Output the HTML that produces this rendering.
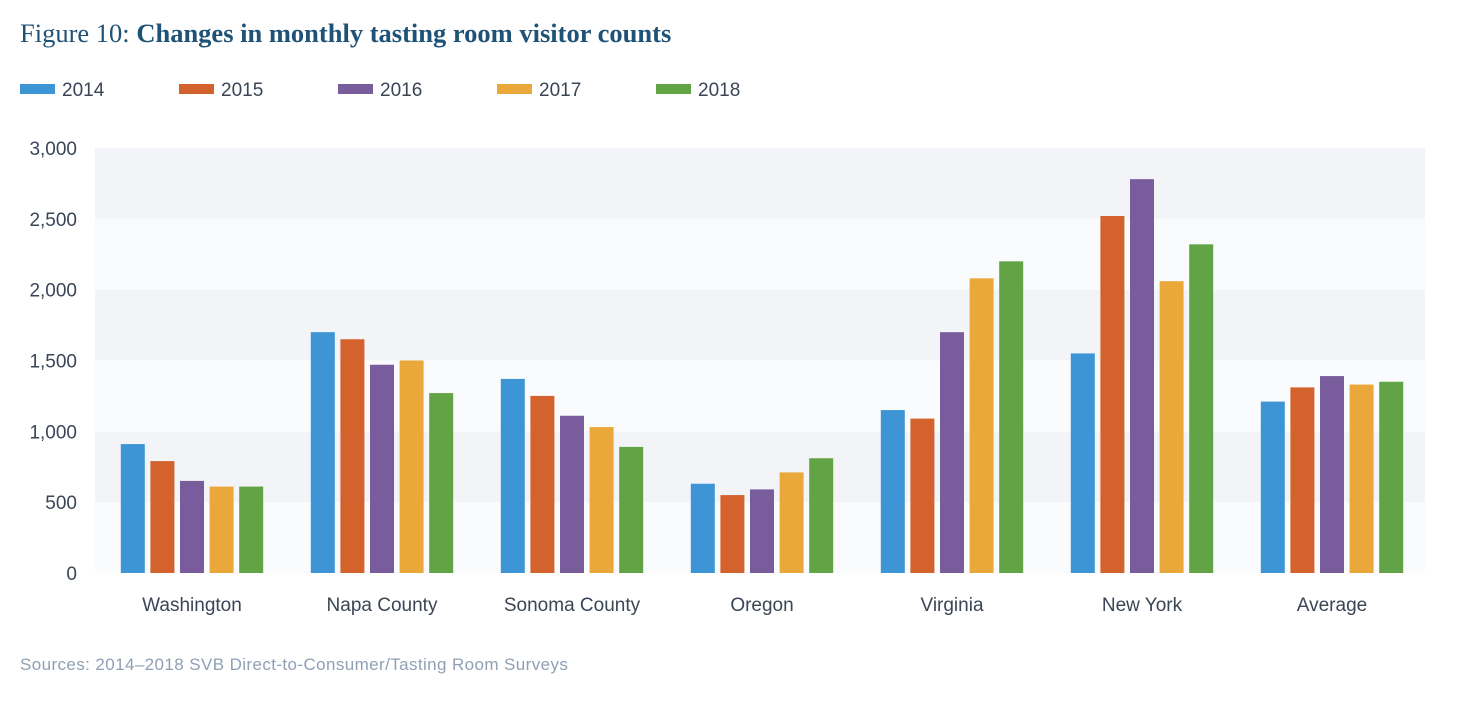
<!DOCTYPE html>
<html><head><meta charset="utf-8"><style>
body{margin:0;background:#fff;width:1458px;height:708px;overflow:hidden;font-family:"Liberation Sans",sans-serif;}
</style></head><body>
<svg width="1458" height="708" xmlns="http://www.w3.org/2000/svg">
<text x="20" y="42" font-family="Liberation Serif, serif" font-size="26.5" fill="#1f5277">Figure 10: <tspan font-weight="bold">Changes in monthly tasting room visitor counts</tspan></text>
<g id="legend"></g>
<g id="bands"></g>
<g id="yaxis"></g>
<g id="bars"></g>
<g id="xaxis"></g>
<text x="20" y="670" font-size="17" letter-spacing="0.4" fill="#8fa0b5">Sources: 2014–2018 SVB Direct-to-Consumer/Tasting Room Surveys</text>
</svg>
<script>
const categories=["Washington","Napa County","Sonoma County","Oregon","Virginia","New York","Average"];
const years=["2014","2015","2016","2017","2018"];
const s2014=[910,1700,1370,630,1150,1550,1210];
const s2015=[790,1650,1250,550,1090,2520,1310];
const s2016=[650,1470,1110,590,1700,2780,1390];
const s2017=[610,1500,1030,710,2080,2060,1330];
const s2018=[610,1270,890,810,2200,2320,1350];
const yTicks=[0,500,1000,1500,2000,2500,3000];
const yTickLabels=["0","500","1,000","1,500","2,000","2,500","3,000"];
const series=[s2014,s2015,s2016,s2017,s2018];
const colors=["#3d95d6","#d4622d","#785c9b","#eba83a","#62a345"];
const NS="http://www.w3.org/2000/svg";
const L=95,R=1425,T=148,B=573,yMax=3000;
const y=v=>B-(v/yMax)*(B-T);
const step=(R-L)/categories.length;
const cx=i=>L+step*i+step/2+2;
function mk(tag,attrs,parent){const e=document.createElementNS(NS,tag);for(const k in attrs)e.setAttribute(k,attrs[k]);parent.appendChild(e);return e;}
const bands=document.getElementById('bands');
for(let i=0;i<yTicks.length-1;i++){
  const r=mk('rect',{x:L,y:y(yTicks[i+1]),width:R-L,height:y(yTicks[i])-y(yTicks[i+1]),fill:(i%2===0)?'#fafbfc':'#f3f4f8'},bands);
  
  
}
const ya=document.getElementById('yaxis');
yTicks.forEach((t,i)=>{
  const tx=mk('text',{x:77,y:y(t)+7,'text-anchor':'end','font-size':'19',fill:'#3a4556'},ya);
  tx.textContent=yTickLabels[i];
  
  
});
const bars=document.getElementById('bars');
const bw=24,bs=29.6;
categories.forEach((c,i)=>{
  series.forEach((s,j)=>{
    const x=cx(i)-2*bs-bw/2+j*bs;
    const r=mk('rect',{x:x,y:y(s[i]),width:bw,height:B-y(s[i]),fill:colors[j]},bars);
    
    
  });
});
const xa=document.getElementById('xaxis');
categories.forEach((c,i)=>{
  const tx=mk('text',{x:cx(i),y:611,'text-anchor':'middle','font-size':'19',fill:'#3a4556'},xa);
  tx.textContent=c;
  
  
});
const lg=document.getElementById('legend');
years.forEach((yr,j)=>{
  const g=mk('g',{},lg);
  
  
  const x0=20+j*159;
  mk('rect',{x:x0,y:84,width:35,height:10,fill:colors[j]},g);
  const t=mk('text',{x:x0+42,y:96,'font-size':'19',fill:'#3a4556'},g);
  t.textContent=yr;
});
</script>
</body></html>
